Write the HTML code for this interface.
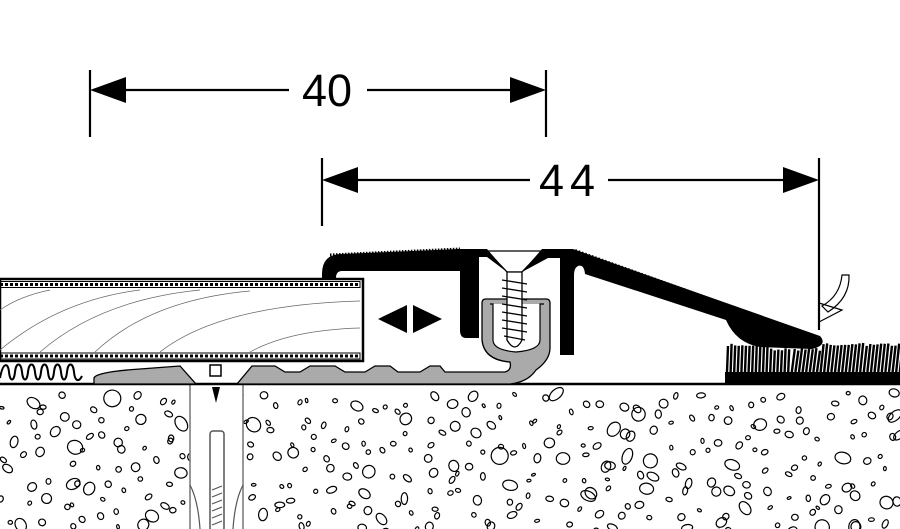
<!DOCTYPE html>
<html><head><meta charset="utf-8"><style>
html,body{margin:0;padding:0;background:#fff;width:900px;height:529px;overflow:hidden}
svg{display:block}
</style></head><body>
<svg id="s" width="900" height="529" viewBox="0 0 900 529" xmlns="http://www.w3.org/2000/svg">
<defs>
<clipPath id="conc"><rect x="0" y="386" width="900" height="143"/></clipPath>
</defs>
<g id="pebbles" clip-path="url(#conc)" fill="none" stroke="#000" stroke-width="1.2"></g>
<!-- dowel hole -->
<rect x="190" y="385" width="53" height="144" fill="#fff"/>
<line x1="190" y1="385" x2="190" y2="529" stroke="#777" stroke-width="1.5"/>
<line x1="243" y1="385" x2="243" y2="529" stroke="#777" stroke-width="1.5"/>
<path d="M190 485 Q198 500 200 529 M243 485 Q235 500 233 529" fill="none" stroke="#555" stroke-width="1.2"/>
<rect x="210" y="431" width="14" height="100" fill="#fff" stroke="#555" stroke-width="1.5" rx="3"/>
<path d="M212 490 L222 486 M212 497 L222 493 M212 504 L222 500 M212 511 L222 507 M212 518 L222 514 M212 525 L222 521" stroke="#555" stroke-width="1.2"/>
<path d="M212 387 L220 387 L216 403 Z" fill="#000"/>
<line x1="0" y1="384" x2="900" y2="384" stroke="#000" stroke-width="2.5"/>
<g stroke="#000" stroke-width="2.2">
<line x1="90" y1="70" x2="90" y2="137"/><line x1="546" y1="70" x2="546" y2="137"/>
<line x1="100" y1="90" x2="289" y2="90"/><line x1="367" y1="90" x2="536" y2="90"/>
<line x1="322" y1="158" x2="322" y2="226"/><line x1="819" y1="158" x2="819" y2="330"/>
<line x1="332" y1="180" x2="530" y2="180"/><line x1="608" y1="180" x2="809" y2="180"/>
</g>
<g fill="#000">
<path d="M90 90 L126 77 L126 103 Z"/><path d="M546 90 L510 77 L510 103 Z"/>
<path d="M322 180 L358 167 L358 193 Z"/><path d="M819 180 L783 167 L783 193 Z"/>
</g>
<g font-family="Liberation Sans, sans-serif" font-size="45" fill="#000" text-anchor="middle">
<text x="327" y="106">40</text>
<text x="570" y="196" letter-spacing="6">44</text>
</g>
<path d="M0 378 C3 362 8 362 9 372 C10 382 14 382 15 372 C16 362 21 362 22 372 C23 382 27 382 28 372 C29 362 34 362 35 372 C36 382 40 382 41 372 C42 362 47 362 48 372 C49 382 53 382 54 372 C55 362 60 362 61 372 C62 382 66 382 67 372 C68 362 73 362 74 372 C75 382 79 382 82 376" fill="none" stroke="#000" stroke-width="2"/>
<rect x="0" y="279" width="363" height="82" fill="#fff" stroke="#000" stroke-width="2.5"/>
<rect x="0" y="281.5" width="360" height="6" fill="none" stroke="#000" stroke-width="1"/>
<line x1="0" y1="284.5" x2="360" y2="284.5" stroke="#000" stroke-width="3" stroke-dasharray="3 2"/>
<rect x="0" y="353" width="360" height="6" fill="none" stroke="#000" stroke-width="1"/>
<line x1="0" y1="356" x2="360" y2="356" stroke="#000" stroke-width="3" stroke-dasharray="3 2"/>
<g fill="none" stroke="#666" stroke-width="0.7">
<path d="M0 350 Q60 300 140 290"/>
<path d="M40 352 Q100 300 200 290"/>
<path d="M95 352 Q150 300 250 291"/>
<path d="M160 352 Q220 305 360 301"/>
<path d="M250 352 Q290 330 360 328"/>
<path d="M0 310 Q20 296 50 290"/>
</g>
<path d="M94 378 Q96 372 140 369 L180 366 L196 384 L237 384 L252 366 L275 366 L285 372 L300 372 L310 366 L335 366 L345 372 L365 372 L375 366 L390 366 L398 372 L420 372 L430 366 L440 366 L445 372 L505 372 Q512 370 510 362 Q484 360 482 340 L482 303 Q482 299 486 299 L546 299 Q550 299 550 303 L550 348 Q550 360 536 370 Q528 382 510 384 L94 384 Z" fill="#aaa" stroke="#000" stroke-width="1.3"/>
<path d="M490 304 L493 304 L493 340 Q493 350 516 352 Q540 350 540 340 L540 304 L544 304" fill="#fff" stroke="#000" stroke-width="1.2"/>
<rect x="210" y="365" width="11" height="11" fill="#fff" stroke="#000" stroke-width="1.5"/>
<g stroke="#000" stroke-width="1.3" fill="#fff">
<path d="M487 251 L542 251 L522 272 L507 272 Z"/>
<path d="M507 272 L522 272 L522 340 Q515 354 507 340 Z"/>
<path d="M502 280 L527 284 M502 288 L527 292 M502 296 L527 300 M502 304 L527 308 M502 312 L527 316 M502 320 L527 324 M502 328 L527 332 M504 336 L525 340" fill="none"/>
</g>
<path d="M322 274 Q322 254 342 254 L458 249 L487 249 L507 272 L487 257 L479 257 L479 338 L466 338 Q460 338 460 330 L460 271 L342 271 Q336 271 336 278 L322 278 Z" fill="#000"/>
<path d="M542 249 L573 249 L820 336 Q828 345 812 349 L760 347 Q736 343 726 320 L585 274 Q584 264 578 266 Q574 268 574 275 L574 355 L560 355 L560 258 L548 258 L522 272 Z" fill="#000"/>
<path d="M330 255 L460 249" stroke="#000" stroke-width="3" stroke-dasharray="1.5 1.5"/>
<path d="M575 251 L820 339" stroke="#000" stroke-width="4" stroke-dasharray="1.5 2"/>
<path d="M378 319 L407 305 L407 333 Z M442 319 L413 305 L413 333 Z" fill="#000"/>
<rect x="725" y="372" width="175" height="12" fill="#000"/>
<g id="fibres" stroke="#000" stroke-width="2.4"></g>
<path d="M842 275 L849 275 Q850 298 828 312 L822 306 Q840 296 842 275 Z M819 303 L842 310 L819 322" fill="none" stroke="#000" stroke-width="1.2"/>
</svg>
<script>
(function(){
var ns="http://www.w3.org/2000/svg";
var seed=12345;function r(){seed=(seed*16807)%2147483647;return seed/2147483647;}
var g=document.getElementById('pebbles');
var cell=19;
for(var cy=392;cy<540;cy+=cell){for(var cx=0;cx<910;cx+=cell){
var x=cx+r()*cell,y=cy+r()*cell;
var rx=2+r()*r()*7,ry=rx*(0.55+r()*0.45);
var e=document.createElementNS(ns,'ellipse');
e.setAttribute('cx',x.toFixed(1));e.setAttribute('cy',y.toFixed(1));
e.setAttribute('rx',rx.toFixed(1));e.setAttribute('ry',ry.toFixed(1));
e.setAttribute('transform','rotate('+(r()*180).toFixed(0)+' '+x.toFixed(1)+' '+y.toFixed(1)+')');
g.appendChild(e);}}
var f=document.getElementById('fibres');
for(var x=727;x<900;x+=3.6){
var top=(x>770&&x<820)?348:343;
var l=document.createElementNS(ns,'line');
l.setAttribute('x1',x);l.setAttribute('y1',372);
l.setAttribute('x2',x+(x>790?3:1));l.setAttribute('y2',top+r()*3);
f.appendChild(l);}
})();
</script>
</body></html>
